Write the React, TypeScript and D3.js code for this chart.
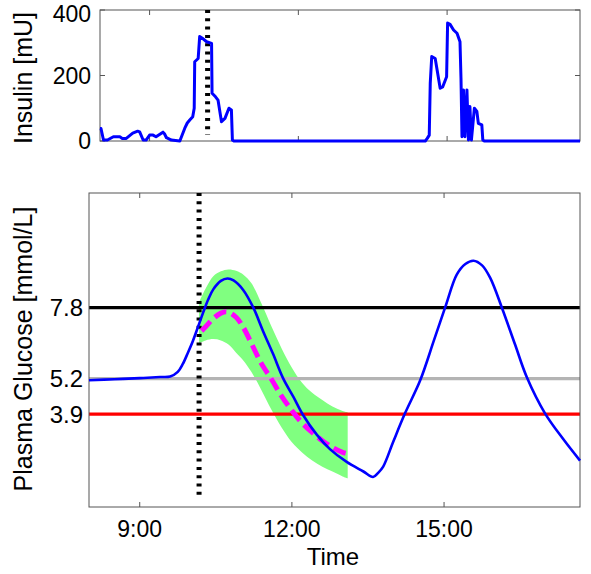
import React from 'react';
import * as d3 from 'd3';

// time in decimal hours
const insulinTime = [8.0, 8.02, 8.07, 8.15, 8.27, 8.4, 8.45, 8.53, 8.66, 8.76, 8.8, 8.87, 8.93, 9.0, 9.07, 9.13, 9.2, 9.27, 9.3, 9.34, 9.44, 9.61, 9.71, 9.76, 9.81, 9.87, 9.9, 9.91, 9.98, 10.01, 10.08, 10.15, 10.25, 10.26, 10.33, 10.38, 10.45, 10.52, 10.6, 10.65, 10.67, 10.7, 14.56, 14.6, 14.64, 14.66, 14.69, 14.76, 14.86, 14.91, 14.99, 15.01, 15.06, 15.13, 15.2, 15.26, 15.28, 15.3, 15.33, 15.36, 15.4, 15.43, 15.46, 15.49, 15.55, 15.6, 15.63, 15.7, 15.72, 15.75, 17.68];
const insulinValue = [38, 38, 3, 3, 13, 13, 8, 8, 24, 30, 28, 3, 3, 18, 18, 13, 20, 27, 22, 10, 3, 0, 39, 55, 64, 74, 100, 242, 252, 319, 312, 303, 298, 146, 135, 125, 59, 69, 100, 95, 3, 0, 0, 8, 18, 176, 258, 252, 161, 165, 196, 360, 356, 339, 329, 303, 191, 13, 156, 13, 156, 3, 105, 3, 100, 90, 54, 49, 3, 0, 0];

const glucoseTime = [8.0, 8.5, 9.0, 9.4, 9.6, 9.75, 9.85, 9.95, 10.05, 10.15, 10.25, 10.35, 10.45, 10.6, 10.73, 10.85, 11.04, 11.24, 11.43, 11.63, 11.83, 12.03, 12.22, 12.49, 12.75, 13.08, 13.41, 13.6, 13.7, 13.8, 14.0, 14.23, 14.53, 14.8, 15.02, 15.25, 15.42, 15.58, 15.75, 15.91, 16.14, 16.4, 16.63, 16.99, 17.36, 17.68];
const glucoseValue = [5.14, 5.18, 5.22, 5.26, 5.28, 5.45, 5.74, 6.15, 6.59, 7.1, 7.62, 8.1, 8.47, 8.78, 8.87, 8.8, 8.45, 7.8, 6.95, 6.1, 5.2, 4.53, 3.87, 3.15, 2.62, 2.15, 1.8, 1.6, 1.75, 1.98, 2.9, 3.93, 5.14, 6.6, 7.8, 9.01, 9.4, 9.52, 9.35, 8.89, 7.8, 6.45, 5.26, 3.93, 2.96, 2.2];

const bandTime = [10.17, 10.3, 10.45, 10.6, 10.75, 10.9, 11.05, 11.2, 11.4, 11.6, 11.8, 12.0, 12.2, 12.4, 12.6, 12.8, 13.0, 13.1];
const bandUpper = [8.0, 8.5, 8.95, 9.13, 9.2, 9.15, 9.0, 8.7, 7.95, 7.1, 6.3, 5.6, 5.05, 4.68, 4.42, 4.18, 4.02, 3.97];
const bandLower = [6.5, 6.6, 6.65, 6.6, 6.45, 6.15, 5.85, 5.45, 4.78, 4.05, 3.4, 2.87, 2.5, 2.2, 1.97, 1.8, 1.62, 1.55];

const predTime = [10.22, 10.3, 10.45, 10.6, 10.72, 10.9, 11.05, 11.2, 11.4, 11.6, 11.8, 12.0, 12.2, 12.4, 12.6, 12.8, 13.0, 13.1];
const predValue = [6.95, 7.1, 7.4, 7.6, 7.65, 7.45, 7.05, 6.5, 5.75, 5.17, 4.55, 4.03, 3.58, 3.23, 2.93, 2.68, 2.5, 2.45];

const thresholds = [7.8, 5.2, 3.9];
const thresholdColors = ['#000000', '#b4b4b4', '#ff0000'];
const hourTicks = [9, 12, 15];
const insulinTicks = [0, 200, 400];
const mealTime = 10.17;

const font = '"Liberation Sans", Arial, sans-serif';

export default function App() {
  const timeDomain = [8, 17.68];
  const xTop = d3.scaleLinear().domain(timeDomain).range([100, 580]);
  const yTop = d3.scaleLinear().domain([0, 400]).range([141, 10]);
  const x = d3.scaleLinear().domain(timeDomain).range([89, 580]);
  const y = d3.scaleLinear().domain([0.5, 12]).range([507, 193]);

  const insulin = insulinTime.map((t, i) => [t, insulinValue[i]] as [number, number]);
  const glucose = glucoseTime.map((t, i) => [t, glucoseValue[i]] as [number, number]);
  const pred = predTime.map((t, i) => [t, predValue[i]] as [number, number]);
  const band = bandTime.map((t, i) => ({ t, lo: bandLower[i], hi: bandUpper[i] }));

  const smooth = d3.curveCatmullRom.alpha(0.5);
  const insulinLine = d3.line<[number, number]>().x(d => xTop(d[0])).y(d => yTop(d[1]));
  const glucoseLine = d3.line<[number, number]>().x(d => x(d[0])).y(d => y(d[1])).curve(smooth);
  const bandArea = d3.area<{ t: number; lo: number; hi: number }>()
    .x(d => x(d.t)).y0(d => y(d.lo)).y1(d => y(d.hi)).curve(smooth);

  const [tl, tr] = xTop.range();
  const [tb, tt] = yTop.range();
  const [bl, br] = x.range();
  const [bb, bt] = y.range();
  const tick = 5;
  const axisColor = '#555';

  return (
    <svg width={591} height={574} style={{ position: 'absolute', left: 0, top: 0, background: '#fff' }}
      fontFamily={font}>
      {/* insulin panel */}
      <rect x={tl} y={tt} width={tr - tl} height={tb - tt} fill="none" stroke={axisColor} strokeWidth={1} />
      {hourTicks.map(h => (
        <g key={'tt' + h} stroke={axisColor}>
          <line x1={xTop(h)} x2={xTop(h)} y1={tb} y2={tb - tick} />
          <line x1={xTop(h)} x2={xTop(h)} y1={tt} y2={tt + tick} />
        </g>
      ))}
      {insulinTicks.map(v => (
        <g key={'it' + v}>
          <line x1={tl} x2={tl + tick} y1={yTop(v)} y2={yTop(v)} stroke={axisColor} />
          <line x1={tr} x2={tr - tick} y1={yTop(v)} y2={yTop(v)} stroke={axisColor} />
          <text x={tl - 9} y={Math.max(yTop(v), 14)} dy="0.36em" textAnchor="end" fontSize={23}>{v}</text>
        </g>
      ))}
      <line x1={xTop(mealTime)} x2={xTop(mealTime)} y1={tt} y2={135} stroke="#000" strokeWidth={5}
        strokeDasharray="3 5.3" />
      <path d={insulinLine(insulin) ?? ''} fill="none" stroke="#0000ff" strokeWidth={3} strokeLinejoin="round" />
      <text transform={`translate(32,78) rotate(-90)`} textAnchor="middle" fontSize={25}>Insulin [mU]</text>

      {/* glucose panel */}
      <path d={bandArea(band) ?? ''} fill="#80ff80" />
      {thresholds.map((v, i) => (
        <line key={'th' + v} x1={bl} x2={br} y1={y(v)} y2={y(v)} stroke={thresholdColors[i]} strokeWidth={3.3} />
      ))}
      <rect x={bl} y={bt} width={br - bl} height={bb - bt} fill="none" stroke={axisColor} strokeWidth={1} />
      {hourTicks.map(h => (
        <g key={'bt' + h}>
          <line x1={x(h)} x2={x(h)} y1={bb} y2={bb - tick} stroke={axisColor} />
          <line x1={x(h)} x2={x(h)} y1={bt} y2={bt + tick} stroke={axisColor} />
          <text x={x(h)} y={537} textAnchor="middle" fontSize={23}>{`${h}:00`}</text>
        </g>
      ))}
      {thresholds.map(v => (
        <text key={'yl' + v} x={bl - 6} y={y(v)} dy="0.36em" textAnchor="end" fontSize={24}>{v.toFixed(1)}</text>
      ))}
      <line x1={x(mealTime)} x2={x(mealTime)} y1={bt} y2={500} stroke="#000" strokeWidth={5}
        strokeDasharray="3 5.3" />
      <path d={glucoseLine(pred) ?? ''} fill="none" stroke="#ff00ff" strokeWidth={5} strokeDasharray="13 6" />
      <path d={glucoseLine(glucose) ?? ''} fill="none" stroke="#0000ff" strokeWidth={2.6} />
      <text x={333} y={565} textAnchor="middle" fontSize={24}>Time</text>
      <text transform={`translate(32,349) rotate(-90)`} textAnchor="middle" fontSize={25}>Plasma Glucose [mmol/L]</text>
    </svg>
  );
}
